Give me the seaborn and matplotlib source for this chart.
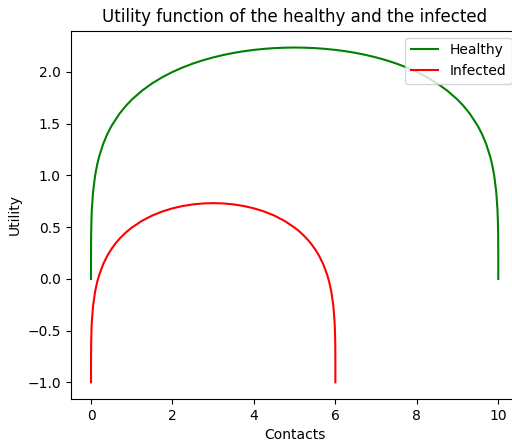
import matplotlib
matplotlib.use("Agg")
import matplotlib.pyplot as plt
import pandas as pd
import seaborn as sns

# values
healthy_x = [0, 0.0001, 0.001, 0.003, 0.01, 0.02, 0.05, 0.1, 0.15, 0.2, 0.3, 0.4, 0.5, 0.7,
             0.85, 1, 1.25, 1.5, 1.75, 2, 2.25, 2.5, 2.75, 3, 3.25, 3.5, 3.75, 4, 4.25, 4.5,
             4.75, 5,
             5.25, 5.5, 5.75, 6, 6.25, 6.5, 6.75, 7, 7.25, 7.5, 7.75, 8, 8.25, 8.5, 8.75, 9,
             9.15, 9.3, 9.5, 9.6, 9.7, 9.8, 9.85, 9.9, 9.95, 9.98, 9.99, 9.997, 9.999,
             9.9999, 10]
healthy_y = [0.0, 0.1778, 0.316, 0.4161, 0.562, 0.6684, 0.8398, 0.9975, 1.1025, 1.1832,
             1.3061, 1.3999, 1.4763, 1.5973, 1.6700, 1.7321, 1.8186, 1.8896, 1.9493, 2.0,
             2.0435, 2.0809, 2.1131, 2.1407, 2.1642, 2.1840, 2.2003, 2.2134, 2.2234, 2.2305,
             2.2347, 2.2361,
             2.2347, 2.2305, 2.2234, 2.2134, 2.2003, 2.1840, 2.1642, 2.1407, 2.1131, 2.0809,
             2.0435, 2.0, 1.9493, 1.8896, 1.8186, 1.7321, 1.6700, 1.5973, 1.4763, 1.3999,
             1.3061, 1.1832, 1.1025, 0.9975, 0.8398, 0.6684, 0.562, 0.4161, 0.316, 0.1778,
             0.0]

infected_x = [0, 0.0001, 0.001, 0.003, 0.01, 0.02, 0.05, 0.1, 0.15, 0.2, 0.3, 0.4, 0.5,
              0.6, 0.7, 0.8, 0.9, 1, 1.25, 1.5, 1.75, 2, 2.25, 2.5, 2.75, 3,
              3.25, 3.5, 3.75, 4, 4.25, 4.5, 4.75, 5, 5.1, 5.2, 5.3, 5.4, 5.5, 5.6, 5.7,
              5.8, 5.85, 5.9, 5.95, 5.98, 5.99, 5.997, 5.999, 5.9999, 6]
infected_y = [-1.0, -0.8435, -0.7217, -0.6338, -0.5053, -0.4119, -0.2615, -0.1236, -0.0321,
              0.0378, 0.1435, 0.2234, 0.2878, 0.3416, 0.3879, 0.4281, 0.4637, 0.4953, 0.5610,
              0.6119, 0.6514, 0.6818, 0.7043, 0.7199, 0.7290, 0.7321,
              0.7290, 0.7199, 0.7043, 0.6818, 0.6514, 0.6119, 0.5610, 0.4953, 0.4637, 0.4281,
              0.3879, 0.3416, 0.2878, 0.2234, 0.1435, 0.0378, -0.0321, -0.1236, -0.2615,
              -0.4119, -0.5053, -0.6338, -0.7217, -0.8435, -1.0]

healthy = pd.DataFrame({"Contacts": healthy_x, "Utility": healthy_y})
infected = pd.DataFrame({"Contacts": infected_x, "Utility": infected_y})

fig, ax = plt.subplots(figsize=(5.12, 4.4), dpi=100)
sns.lineplot(data=healthy, x="Contacts", y="Utility", color="green", label="Healthy",
             sort=False, estimator=None, ax=ax)
sns.lineplot(data=infected, x="Contacts", y="Utility", color="red", label="Infected",
             sort=False, estimator=None, ax=ax)

ax.set_title("Utility function of the healthy and the infected")
ax.set_xlabel("Contacts")
ax.set_ylabel("Utility")
ax.legend(loc="upper right")

plt.subplots_adjust(left=0.138, right=1.013, top=0.93, bottom=0.093)
plt.savefig("out.png", dpi=100)
